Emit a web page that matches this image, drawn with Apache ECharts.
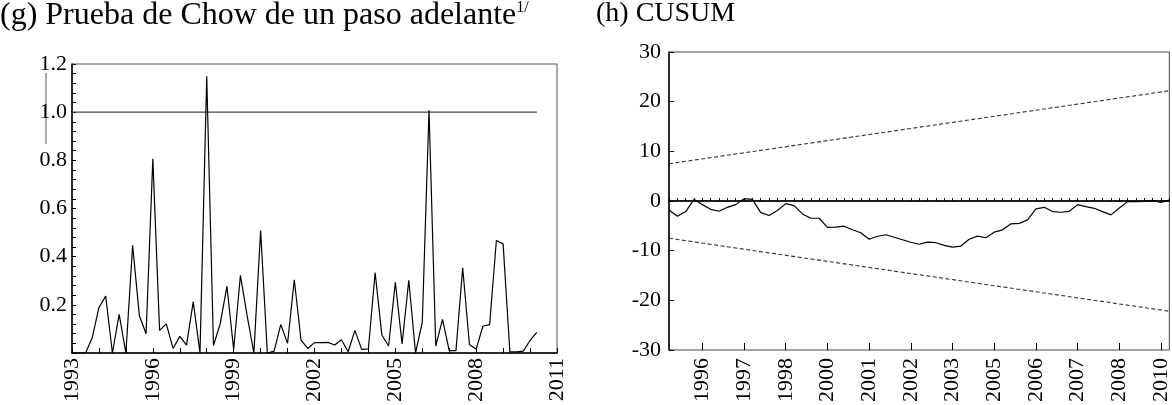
<!DOCTYPE html>
<html><head><meta charset="utf-8">
<script src="https://cdn.jsdelivr.net/npm/echarts@6/dist/echarts.min.js"></script>
<style>html,body{margin:0;padding:0;background:#fff}#c{width:1172px;height:405px}</style>
</head><body><div id="c"></div>
<script>
// ---------- data ----------
const chowQuarters = [
 '1993Q1','1993Q2','1993Q3','1993Q4','1994Q1','1994Q2','1994Q3','1994Q4',
 '1995Q1','1995Q2','1995Q3','1995Q4','1996Q1','1996Q2','1996Q3','1996Q4',
 '1997Q1','1997Q2','1997Q3','1997Q4','1998Q1','1998Q2','1998Q3','1998Q4',
 '1999Q1','1999Q2','1999Q3','1999Q4','2000Q1','2000Q2','2000Q3','2000Q4',
 '2001Q1','2001Q2','2001Q3','2001Q4','2002Q1','2002Q2','2002Q3','2002Q4',
 '2003Q1','2003Q2','2003Q3','2003Q4','2004Q1','2004Q2','2004Q3','2004Q4',
 '2005Q1','2005Q2','2005Q3','2005Q4','2006Q1','2006Q2','2006Q3','2006Q4',
 '2007Q1','2007Q2','2007Q3','2007Q4','2008Q1','2008Q2','2008Q3','2008Q4',
 '2009Q1','2009Q2','2009Q3','2009Q4','2010Q1','2010Q2'];
const chowValues = [
 0, 0, 0, 0.063,  0.189, 0.236, 0, 0.16,
 0, 0.447, 0.155, 0.08,  0.806, 0.094, 0.121, 0.019,
 0.069, 0.033, 0.213, 0,  1.149, 0.031, 0.121, 0.277,
 0.015, 0.322, 0.155, 0,  0.509, 0, 0.008, 0.119,
 0.04, 0.304, 0.053, 0.019,  0.043, 0.043, 0.044, 0.033,
 0.055, 0.005, 0.094, 0.015,  0.017, 0.334, 0.075, 0.029,
 0.294, 0.038, 0.302, 0,  0.127, 1.008, 0.029, 0.14,
 0.01, 0.01, 0.354, 0.035,  0.016, 0.111, 0.118, 0.467,
 0.453, 0.005, 0.005, 0.008,  0.052, 0.086];
const chowCriticalValue = 1.0;
const chowYearLabels = [1993, 1996, 1999, 2002, 2005, 2008, 2011];

const cusumQuarters = [
 '1995Q2','1995Q3','1995Q4','1996Q1','1996Q2','1996Q3','1996Q4',
 '1997Q1','1997Q2','1997Q3','1997Q4','1998Q1','1998Q2','1998Q3','1998Q4',
 '1999Q1','1999Q2','1999Q3','1999Q4','2000Q1','2000Q2','2000Q3','2000Q4',
 '2001Q1','2001Q2','2001Q3','2001Q4','2002Q1','2002Q2','2002Q3','2002Q4',
 '2003Q1','2003Q2','2003Q3','2003Q4','2004Q1','2004Q2','2004Q3','2004Q4',
 '2005Q1','2005Q2','2005Q3','2005Q4','2006Q1','2006Q2','2006Q3','2006Q4',
 '2007Q1','2007Q2','2007Q3','2007Q4','2008Q1','2008Q2','2008Q3','2008Q4',
 '2009Q1','2009Q2','2009Q3','2009Q4','2010Q1','2010Q2'];
const cusumValues = [
 -1.8, -3.07, -2.13, 0.33, -0.73, -1.67, -2.07, -1.27, -0.73, 0.47,
 0.33, -2.33, -2.93, -1.93, -0.53, -0.93, -2.6, -3.47, -3.47, -5.33,
 -5.27, -5.07, -5.8, -6.4, -7.7, -7.1, -6.8, -7.3, -7.8, -8.3,
 -8.7, -8.27, -8.4, -8.93, -9.27, -9.07, -7.7, -7.07, -7.4, -6.27,
 -5.8, -4.6, -4.5, -3.8, -1.6, -1.27, -2.13, -2.27, -2.07, -0.73,
 -1.13, -1.47, -2.13, -2.8, -1.4, -0.13, -0.13, -0.07, 0.13, -0.27, 0.2];
const cusumBandStart = 7.5;
const cusumBandEnd = 22.2;

// ---------- chart ----------
const FONT = 'Liberation Serif';
const toYear = q => +q.slice(0, 4) + (+q.slice(5) - 1) / 4;
const chowData = chowQuarters.map((q, i) => [toYear(q), chowValues[i]]);
const firstQ = cusumQuarters[0], lastQ = cusumQuarters[cusumQuarters.length - 1];
const chowFirst = toYear(chowQuarters[0]), chowLast = toYear(chowQuarters[chowQuarters.length - 1]);

const chart = echarts.init(document.getElementById('c'), null, {renderer: 'canvas'});
const labelStyle = {color: '#000', fontFamily: FONT};

chart.setOption({
  animation: false,
  backgroundColor: '#fff',
  title: [
    {left: 0, top: 0, padding: 0,
     text: '{m|(g) Prueba de Chow de un paso adelante}{s|1/}',
     textStyle: {rich: {
       m: {fontFamily: FONT, fontSize: 32, fontWeight: 'normal', color: '#000'},
       s: {fontFamily: FONT, fontSize: 16, fontWeight: 'normal', color: '#000', verticalAlign: 'top'}
     }}},
    {left: 596, top: 0, padding: 0, text: '(h) CUSUM',
     textStyle: {fontFamily: FONT, fontSize: 28, fontWeight: 'normal', color: '#000'}}
  ],
  graphic: [
    {type: 'line', shape: {x1: 46, y1: 73, x2: 46, y2: 144}, style: {stroke: '#555', lineWidth: 1}}
  ],
  grid: [
    {left: 72, top: 64, width: 485, height: 292, show: true, borderColor: '#555', borderWidth: 1},
    {left: 669, top: 52, width: 502, height: 300, show: true, borderColor: '#444', borderWidth: 1}
  ],
  xAxis: [
    {type: 'value', gridIndex: 0, min: 1993, max: 2011, interval: 1,
     axisLine: {lineStyle: {color: '#000', width: 1.5}},
     axisTick: {inside: true, length: 5, lineStyle: {color: '#000'}},
     splitLine: {show: false},
     axisLabel: Object.assign({rotate: 90, fontSize: 22, margin: 5,
       formatter: v => chowYearLabels.indexOf(v) >= 0 ? String(v) : ''}, labelStyle)},
    {type: 'category', gridIndex: 1, data: cusumQuarters, boundaryGap: false,
     axisLine: {lineStyle: {color: '#000', width: 1.5}},
     axisTick: {inside: true, length: 3, interval: 0, lineStyle: {color: '#000'}},
     splitLine: {show: false},
     axisLabel: Object.assign({rotate: 90, fontSize: 22, margin: 8,
       interval: i => i % 5 === 4, formatter: v => v.slice(0, 4)}, labelStyle)},
    {type: 'category', gridIndex: 1, data: cusumQuarters, boundaryGap: false, position: 'bottom',
     axisLine: {show: false},
     axisTick: {inside: true, length: 7, interval: i => i % 5 === 4, lineStyle: {color: '#000'}},
     axisLabel: {show: false}, splitLine: {show: false}}
  ],
  yAxis: [
    {type: 'value', gridIndex: 0, min: 0, max: 1.2, interval: 0.2,
     axisLine: {show: true, lineStyle: {color: '#000', width: 1.5}},
     axisTick: {show: true, inside: true, length: 4, lineStyle: {color: '#000'}},
     minorTick: {show: true, splitNumber: 5, length: 4, lineStyle: {color: '#000'}},
     splitLine: {show: false},
     axisLabel: Object.assign({fontSize: 22, margin: 5,
       formatter: v => v === 0 ? '' : v.toFixed(1)}, labelStyle)},
    {type: 'value', gridIndex: 1, min: -30, max: 30, interval: 10,
     axisLine: {show: true, lineStyle: {color: '#000', width: 1.5}},
     axisTick: {show: true, inside: true, length: 5, lineStyle: {color: '#000'}},
     splitLine: {show: false},
     axisLabel: Object.assign({fontSize: 22, margin: 8}, labelStyle)}
  ],
  series: [
    {type: 'line', xAxisIndex: 0, yAxisIndex: 0, data: [[chowFirst, chowCriticalValue], [chowLast, chowCriticalValue]],
     symbol: 'none', silent: true, lineStyle: {color: '#444', width: 1.2}},
    {type: 'line', xAxisIndex: 0, yAxisIndex: 0, data: chowData, symbol: 'none',
     lineStyle: {color: '#000', width: 1.2}, z: 3},
    {type: 'line', xAxisIndex: 1, yAxisIndex: 1, data: [[firstQ, 0], [lastQ, 0]],
     symbol: 'none', lineStyle: {color: '#000', width: 1.2}},
    {type: 'line', xAxisIndex: 1, yAxisIndex: 1, data: [[firstQ, cusumBandStart], [lastQ, cusumBandEnd]],
     symbol: 'none', lineStyle: {color: '#333', width: 1.1, type: [4, 2.5]}},
    {type: 'line', xAxisIndex: 1, yAxisIndex: 1, data: [[firstQ, -cusumBandStart], [lastQ, -cusumBandEnd]],
     symbol: 'none', lineStyle: {color: '#333', width: 1.1, type: [4, 2.5]}},
    {type: 'line', xAxisIndex: 1, yAxisIndex: 1, data: cusumValues, symbol: 'none',
     lineStyle: {color: '#000', width: 1.2}, z: 3}
  ]
});
</script>
</body></html>
